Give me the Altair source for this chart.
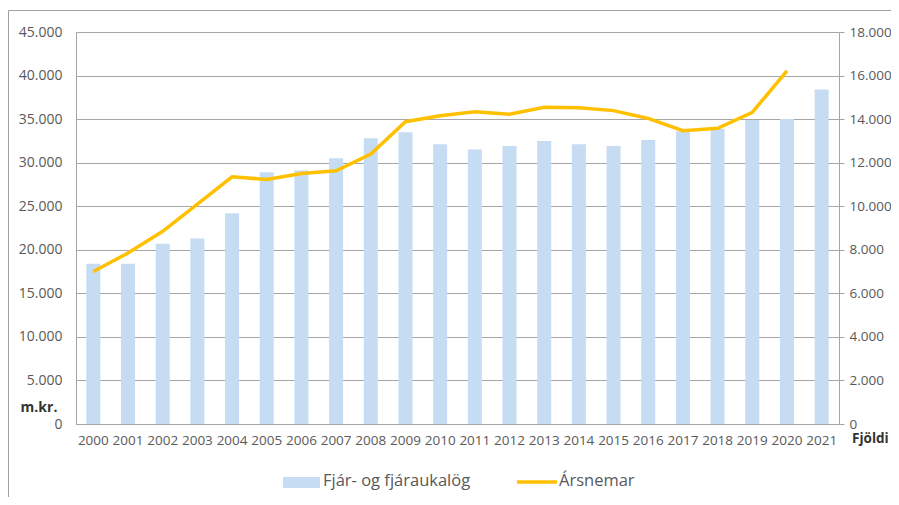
import altair as alt
import pandas as pd

years = [str(y) for y in range(2000, 2022)]
budget = [18400, 18400, 20700, 21300, 24200, 28900, 29100, 30500, 32800, 33500,
          32100, 31500, 31900, 32500, 32100, 31900, 32600, 33600, 33900, 34900,
          35000, 38400]
line_years = [str(y) for y in range(2000, 2021)]
students = [7000, 7850, 8850, 10100, 11350, 11230, 11500, 11630, 12400, 13880,
            14150, 14340, 14220, 14540, 14520, 14390, 14030, 13470, 13580, 14310,
            16220]

left_ticks = list(range(0, 45001, 5000))
right_ticks = list(range(0, 18001, 2000))

FONT = "Open Sans"
BAR_COLOR = "#c5dcf3"
LINE_COLOR = "#ffc000"
GRID = "#a6a6a6"
LABEL = "#595959"
TICK_FS = 13.5

df_bar = pd.DataFrame({"year": years, "value": budget})
df_line = pd.DataFrame({"year": line_years, "value": students})

fmt = "replace(format(datum.value, ','), ',', '.')"

xenc = alt.X("year:N", sort=years,
             scale=alt.Scale(domain=years, paddingInner=0, paddingOuter=0),
             axis=alt.Axis(title=None, labelAngle=0, ticks=False, labelOverlap=False,
                           labelPadding=9, labelFontSize=TICK_FS, labelColor=LABEL,
                           labelFont=FONT, domainColor=GRID, grid=False))

bars = alt.Chart(df_bar).mark_bar(size=14, color=BAR_COLOR).encode(
    x=xenc,
    y=alt.Y("value:Q", scale=alt.Scale(domain=[0, 45000], nice=False),
            axis=alt.Axis(title=None, values=left_ticks, labelExpr=fmt, ticks=False,
                          labelPadding=14, labelFontSize=14, labelColor=LABEL,
                          labelFont=FONT, domainColor=GRID, gridColor=GRID,
                          gridWidth=1, orient="left")),
)

line = alt.Chart(df_line).mark_line(color=LINE_COLOR, strokeWidth=3.5).encode(
    x=alt.X("year:N", sort=years),
    y=alt.Y("value:Q", scale=alt.Scale(domain=[0, 18000], nice=False),
            axis=alt.Axis(title=None, values=right_ticks, labelExpr=fmt, ticks=True,
                          tickSize=5, tickColor=GRID, labelPadding=5, labelFontSize=TICK_FS,
                          labelColor=LABEL, labelFont=FONT, domainColor=GRID,
                          grid=False, orient="right")),
)

one = pd.DataFrame({"a": [0]})

mkr = alt.Chart(one).mark_text(text="m.kr.", font=FONT, fontSize=14, fontWeight="bold",
                               color="#333333", align="center", baseline="middle").encode(
    x=alt.value(-37), y=alt.value(376))
fjoldi = alt.Chart(one).mark_text(text="Fjöldi", font=FONT, fontSize=13.5, fontWeight="bold",
                                  color="#333333", align="left", baseline="middle").encode(
    x=alt.value(776), y=alt.value(407))

leg_rect = alt.Chart(one).mark_rect(color=BAR_COLOR).encode(
    x=alt.value(207), x2=alt.value(244), y=alt.value(445), y2=alt.value(456))
leg_text1 = alt.Chart(one).mark_text(text="Fjár- og fjáraukalög", font=FONT, fontSize=16.5,
                                     color=LABEL, align="left", baseline="middle").encode(
    x=alt.value(247), y=alt.value(449))
leg_line = alt.Chart(one).mark_rule(color=LINE_COLOR, strokeWidth=3.5).encode(
    x=alt.value(441), x2=alt.value(481), y=alt.value(450))
leg_text2 = alt.Chart(one).mark_text(text="Ársnemar", font=FONT, fontSize=16.5,
                                     color=LABEL, align="left", baseline="middle").encode(
    x=alt.value(483), y=alt.value(449))

border_top = alt.Chart(one).mark_rule(color="#a0a0a0", strokeWidth=1).encode(
    x=alt.value(-67.5), x2=alt.value(900), y=alt.value(-21.5))
border_left = alt.Chart(one).mark_rule(color="#a0a0a0", strokeWidth=1).encode(
    x=alt.value(-67.5), y=alt.value(-21.5), y2=alt.value(500))

chart = alt.layer(
    bars, line, mkr, fjoldi, leg_rect, leg_text1, leg_line, leg_text2, border_top, border_left
).resolve_scale(y="independent").properties(
    width=763, height=392,
    autosize=alt.AutoSizeParams(type="none"),
    padding={"left": 68, "top": 24, "right": 52, "bottom": 73},
).configure_view(stroke=None).configure(background="white")

chart.save("out.html", embed_options={"renderer": "svg", "actions": False})
